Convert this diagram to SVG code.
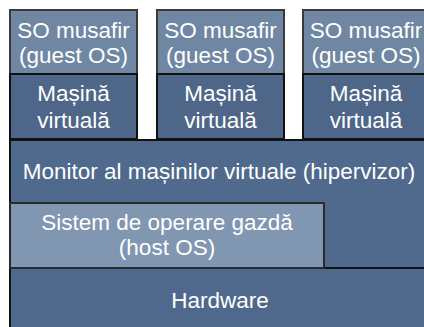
<svg xmlns="http://www.w3.org/2000/svg" width="424" height="327" viewBox="0 0 424 327">
<style>
.t{font-family:"Liberation Sans",Arial,Helvetica,sans-serif;font-size:22.5px;fill:#ffffff;text-anchor:middle}
.guest{fill:#6f87a3;stroke:#3a3a3a;stroke-width:2}
.vm{fill:#4e6789;stroke:#111111;stroke-width:2}
.hyp{fill:#4f6a8d;stroke:#111111;stroke-width:2}
.host{fill:#8196b0;stroke:#2a2a2a;stroke-width:2}
.hw{fill:#4f698c;stroke:#111111;stroke-width:2}
</style>
<rect width="424" height="327" fill="#ffffff"/>
<g id="hardware">
<rect class="hw" x="10" y="268" width="430" height="70"/>
<text class="t" x="220" y="308">Hardware</text>
</g>
<g id="hypervisor">
<rect class="hyp" x="10" y="140" width="430" height="128"/>
<text class="t" x="219" y="179">Monitor al mașinilor virtuale (hipervizor)</text>
</g>
<g id="host-os">
<rect class="host" x="10" y="203" width="314" height="65"/>
<text class="t" x="167" y="230">Sistem de operare gazdă</text>
<text class="t" x="167" y="255">(host OS)</text>
</g>
<g id="guest1">
<rect class="guest" x="10" y="10" width="127" height="64"/>
<text class="t" x="73.5" y="38">SO musafir</text>
<text class="t" x="73.5" y="63">(guest OS)</text>
</g>
<g id="vm1">
<rect class="vm" x="10" y="74" width="127" height="65"/>
<text class="t" x="73.5" y="101">Mașină</text>
<text class="t" x="73.5" y="128">virtuală</text>
</g>
<g id="guest2">
<rect class="guest" x="157" y="10" width="127" height="64"/>
<text class="t" x="220.5" y="38">SO musafir</text>
<text class="t" x="220.5" y="63">(guest OS)</text>
</g>
<g id="vm2">
<rect class="vm" x="157" y="74" width="127" height="65"/>
<text class="t" x="220.5" y="101">Mașină</text>
<text class="t" x="220.5" y="128">virtuală</text>
</g>
<g id="guest3">
<rect class="guest" x="303" y="10" width="127" height="64"/>
<text class="t" x="366" y="38">SO musafir</text>
<text class="t" x="366" y="63">(guest OS)</text>
</g>
<g id="vm3">
<rect class="vm" x="303" y="74" width="127" height="65"/>
<text class="t" x="366" y="101">Mașină</text>
<text class="t" x="366" y="128">virtuală</text>
</g>
<g id="connectors"/>
</svg>
